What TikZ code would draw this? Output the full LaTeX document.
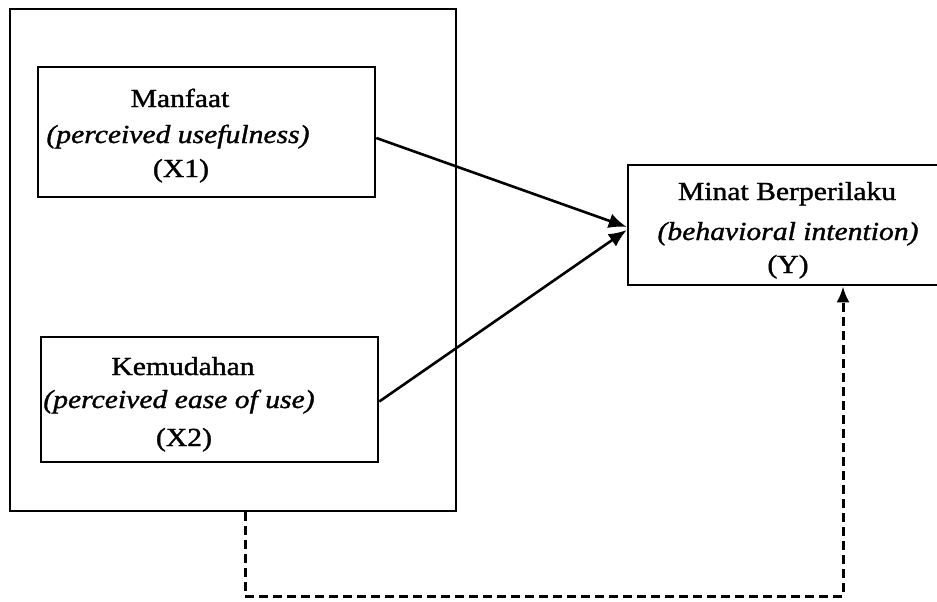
\documentclass[tikz,border=0pt]{standalone}
\usepackage{fontspec}
\setmainfont{Liberation Serif}[FakeStretch=1.14,FakeBold=1.3]
\usetikzlibrary{arrows.meta}
\begin{document}
\begin{tikzpicture}[x=1pt,y=-1pt,
  box/.style={draw=black,line width=2.6pt,inner sep=0pt,fill=none},
  txt/.style={anchor=base,inner sep=0pt,font=\fontsize{26}{31}\selectfont},
  itxt/.style={txt,font=\fontsize{26}{31}\selectfont\itshape},
  conn/.style={line width=2.6pt,-{Latex[length=18pt,width=15pt]}},
  dconn/.style={line width=3pt,dash pattern=on 9pt off 5pt,-{Latex[length=16pt,width=13pt]}}]
\clip (0,0) rectangle (937,602);
\fill[white] (0,0) rectangle (937,602);
% outer frame
\node[box,minimum width=446pt,minimum height=502pt] (outer) at (233,260) {};
% X1
\node[box,minimum width=337pt,minimum height=130pt] (x1) at (206.5,132) {};
\node[txt]  (x1a) at (180,107) {Manfaat};
\node[itxt] (x1b) at (178,143) {(perceived usefulness)};
\node[txt]  (x1c) at (181,177) {(X1)};
% X2
\node[box,minimum width=337pt,minimum height=125pt] (x2) at (209.5,399.5) {};
\node[txt]  (x2a) at (183,375) {Kemudahan};
\node[itxt] (x2b) at (179,408) {(perceived ease of use)};
\node[txt]  (x2c) at (184,446) {(X2)};
% Y
\node[box,minimum width=320pt,minimum height=120pt] (y) at (788,225) {};
\node[txt]  (ya) at (787,200) {Minat Berperilaku};
\node[itxt] (yb) at (788,240) {(behavioral intention)};
\node[txt]  (yc) at (788,273) {(Y)};
% connectors
\draw[conn] ([yshift=-6pt]x1.east) -- ([yshift=-2pt]y.west);
\draw[conn] ([yshift=-2pt]x2.east) -- ([yshift=-5pt]y.west);
\coordinate (d1) at (245,596);
\coordinate (d2) at (843,593);
\draw[dconn] (outer.south -| d1) -- (d1) -- (d1 -| d2) -- (y.south -| d2);
\end{tikzpicture}
\end{document}
